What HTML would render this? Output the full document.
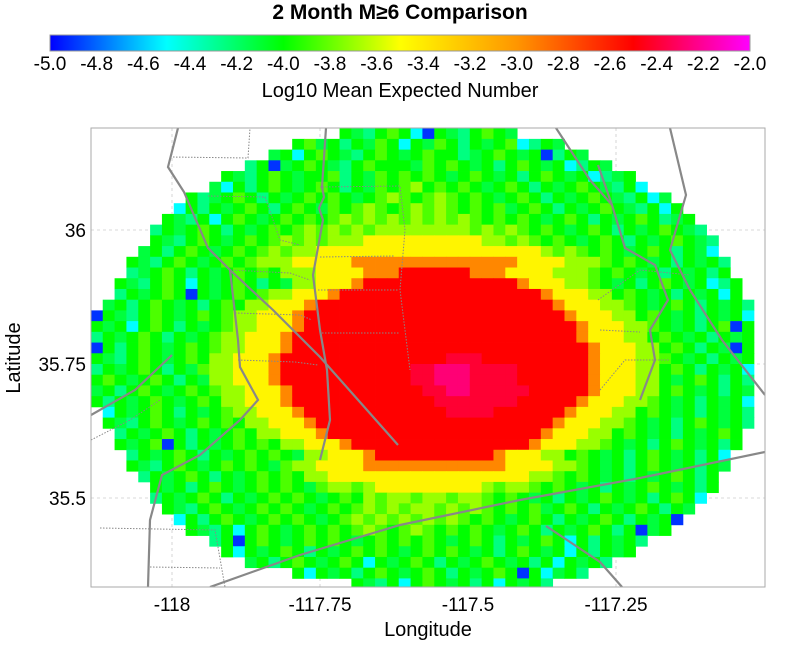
<!DOCTYPE html>
<html><head><meta charset="utf-8"><style>
html,body{margin:0;padding:0;background:#fff;width:800px;height:649px;overflow:hidden}
svg{display:block}
text{font-family:"Liberation Sans",sans-serif;fill:#000}
</style></head><body>
<svg id="chart" width="800" height="649" viewBox="0 0 800 649" xmlns="http://www.w3.org/2000/svg">
<defs>
<linearGradient id="cbgrad" x1="0" x2="1" y1="0" y2="0">
<stop offset="0" stop-color="#0000ff"/><stop offset="0.1667" stop-color="#00ffff"/><stop offset="0.3333" stop-color="#00ff00"/><stop offset="0.5" stop-color="#ffff00"/><stop offset="0.6667" stop-color="#ff9600"/><stop offset="0.8333" stop-color="#ff0000"/><stop offset="1" stop-color="#ff00ff"/>
</linearGradient>
<clipPath id="plotclip"><rect x="91" y="128" width="674" height="459"/></clipPath>
</defs>
<text x="400" y="19" text-anchor="middle" font-size="21" font-weight="bold">2 Month M≥6 Comparison</text>
<rect x="50" y="35" width="700" height="16" fill="url(#cbgrad)" stroke="#999" stroke-width="1"/>
<g id="cbticks"></g>
<text x="400" y="97" text-anchor="middle" font-size="20">Log10 Mean Expected Number</text>
<g id="grid"></g>
<g id="cells" clip-path="url(#plotclip)"></g>
<g clip-path="url(#plotclip)" fill="none">
<g stroke="#888" stroke-width="1" stroke-dasharray="1.5,1.5">
<polyline points="170,157 248,158 250,128"/>
<polyline points="208,196 265,197 280,240 300,245"/>
<polyline points="230,270 290,273 310,280"/>
<polyline points="235,313 300,315 312,320"/>
<polyline points="238,360 295,362 318,365"/>
<polyline points="320,187 400,186 405,230 400,290 410,370"/>
<polyline points="320,257 395,256"/>
<polyline points="318,290 398,290"/>
<polyline points="322,333 400,333"/>
<polyline points="598,300 640,270 690,275"/>
<polyline points="600,330 640,332"/>
<polyline points="600,390 625,360 670,360"/>
<polyline points="91,440 130,420 160,400"/>
<polyline points="100,528 215,530 225,587"/>
<polyline points="150,567 220,568"/>
</g>
<g stroke="#888" stroke-width="2.2">
<polyline points="178,128 168,167 184,192 208,248 230,270 273,310 320,357 398,445"/>
<polyline points="230,270 238,340 240,367 258,400 240,420 200,455 162,475 150,520 148,587"/>
<polyline points="326,128 322,187 324,197 319,208 323,220 313,275 320,330 327,370 330,420 320,460"/>
<polyline points="91,415 135,390 172,355"/>
<polyline points="556,128 590,180 612,205 625,248 655,265 668,300 650,330 655,360 640,400"/>
<polyline points="598,165 612,205"/>
<polyline points="670,128 686,195 670,250 690,290 722,340 765,395"/>
<polyline points="210,587 300,555 400,525 520,500 640,478 765,452"/>
<polyline points="546,526 600,562 622,587"/>
</g>
</g>
<rect x="91" y="128" width="674" height="459" fill="none" stroke="#aaa" stroke-width="1"/>
<g id="axes"></g>
<text x="428" y="636" text-anchor="middle" font-size="20">Longitude</text>
<text x="0" y="0" transform="translate(20,358) rotate(-90)" text-anchor="middle" font-size="20">Latitude</text>
</svg>
<script>
const cbTickValues = [-5.0,-4.8,-4.6,-4.4,-4.2,-4.0,-3.8,-3.6,-3.4,-3.2,-3.0,-2.8,-2.6,-2.4,-2.2,-2.0];
const xTickValues = [-118,-117.75,-117.5,-117.25];
const xTickLabels = ["-118","-117.75","-117.5","-117.25"];
const yTickValues = [36,35.75,35.5];
const yTickLabels = ["36","35.75","35.5"];
const lonStart = -118.137;
const latTop = 36.19;
const cellStep = 0.02;
const levelCodes = {b:-4.9,c:-4.5,e:-4.25,f:-4.12,g:-4.0,k:-3.85,h:-3.7,y:-3.45,o:-2.95,r:-2.5,s:-2.4,m:-2.27};
const rowStarts = [21,17,15,13,11,10,8,7,6,5,5,4,3,3,2,2,1,0,0,0,0,0,0,0,0,0,1,1,2,2,3,3,4,5,5,6,7,8,10,11,13,17,22];
const rowCodes = [
"gfegkgcbgfegkgf",
"gkfgegfkgcgfkgegfgkcegf",
"fgcgkgfegkgfgkggefgkgfgbegf",
"egbfgkgfegkgggfkgkgfgegkgfgcegf",
"gfegkgfggkegfkgkgkgfgkgfgegkgfgcefg",
"fcgegkgfgkgegfkgkhgkgkgfgkgegfgkgfegc",
"gefgkgegfgkgkgfgkhkgkhkgkgfgkgegfgkgfegcf",
"cgegfgkgegkgfkgkhkgkhkhkgkgkfgkgegfgkgfegcg",
"gfegcgkgfgkgkgkhkhkhkhkhkhkgkgkgfgkgegfgkgefg",
"egfgkgegfgkgkhkhkhkhhhhhhhhkhkhkgkgfgkgegfgkgfe",
"gfegkgfgkgkhkhkhh"+"hyyyyyyyyyyh"+"hkhkgkgfgkgegfgkgfe",
"fgegkgfgkgkhkhh"+"yyyyyyyyyyyyyyyyyyy"+"hkhkgkgfgkgegfc",
"gfegkgfgkgk"+"hhh"+"yyyyy"+"oooooooooooooo"+"yyyy"+"hhh"+"kgkgfgegfge",
"efgkgegfgkgkg"+"hhh"+"yyyy"+"ooo"+"rrrrrr"+"ooo"+"yyyy"+"hhh"+"kgkgfgegfgeg",
"gfegkgcgfgkgegf"+"hhyyyo"+"rrrrrrrrrrrrr"+"oyyyhh"+"kgfgegkgfgceg",
"egfgkgbgfgkgk"+"hhyyyo"+"rrrrrrrrrrrrrrrrr"+"oyyyhh"+"gkgfgegfgcg",
"fgegkgfgegkg"+"hhyyyo"+"rrrrrrrrrrrrrrrrrrrr"+"oyyyhh"+"kgfgkgegfge",
"bgfegkgfgkgk"+"hhyyyo"+"rrrrrrrrrrrrrrrrrrrrrr"+"oyyyhh"+"gkgfgegfgc",
"gfgcgkgegfgk"+"hhyyyo"+"rrrrrrrrrrrrrrrrrrrrrrr"+"oyyyhh"+"kgfgegkbg",
"egfgkgegfgk"+"hhyyyo"+"rrrrrrrrrrrrrrrrrrrrrrrr"+"oyyyhh"+"gkgfgegfg",
"bgegkgfgkgk"+"hhyyyo"+"rrrrrrrrrrrrrrrrrrrrrrrrr"+"oyyyhh"+"gkgegfbg",
"gfegkgfgkg"+"hhyyyo"+"rrrrrrrrrrrrrrsssrrrrrrrrr"+"oyyyhh"+"kgfgegfg",
"egfgkgegfk"+"hhyyyo"+"rrrrrrrrrrrssmmmssssrrrrrr"+"oyyyhh"+"gkgegfgc",
"gkgfgkgegf"+"hhyyyo"+"rrrrrrrrrrrssmmmssssrrrrrr"+"oyyyhh"+"gfgkgege",
"fgegkgfgkgk"+"hhyyyo"+"rrrrrrrrrrrssmmsssssrrrrr"+"oyyyhh"+"gkgfgegf",
"gegfgkgfgkg"+"hhyyyo"+"rrrrrrrrrrrrsssssssrrrrr"+"oyyyhh"+"kgfgegfgc",
"cgfgkgegfgk"+"hhyyyo"+"rrrrrrrrrrrrssssrrrrrr"+"oyyyhh"+"gkgfgegfge",
"gfegkgfgkgkg"+"hhyyyo"+"rrrrrrrrrrrrrrrrrrrr"+"oyyyhh"+"kgfgegkgfge",
"egfgkgegfgkg"+"hhyyyo"+"rrrrrrrrrrrrrrrrrr"+"oyyyhh"+"gkgfgegfgkg",
"gfgkbgegfgkgkg"+"hhyyyo"+"rrrrrrrrrrrrrrr"+"oyyyhh"+"kgfgegkgfgeg",
"egfgkgegfgkgkgf"+"hhyyyo"+"rrrrrrrrrr"+"oyyyhh"+"gkgfgegkgfgegc",
"gfegkgfgkgkgfk"+"hhyyyy"+"oooooooooooo"+"yyyyhh"+"kgfgegkgfgegf",
"egfgkgegfgkgkg"+"hh"+"yyyyyyyyyyyyyyyyy"+"hh"+"kgkgfgegfgkgeg",
"gfgegkgfgkgkgfk"+"hhkh"+"yyyyyyyyy"+"hkhh"+"kgkgfgegfgkgfgeg",
"egfgkgegfgkgkgfgkg"+"hkhhkhhkhh"+"kgkgfgegfgkgfgegkgc",
"gfegkgfgkgkgfgkgkhkhkhhkhkhkgkgkfgkgegfgkgegf",
"cgegkgfgkgkgfgkhkhkhkhkhkgkgfgkgegfgkgegfgb",
"gfegcgkgfgkgkgkhkgkhkgkgkgfgkgegfgkgegbfg",
"egbgkgfgkgkgfgkgkgkgfgkgegfgkgcgegfge",
"gcgfgkgegfgkgkgfgkgkgfgegkgfgcgegfg",
"fgegkgfgkgcgfgkgegfgkgfgegcgfge",
"gcgfgegkgfgkgegfgkgbgcfge",
"gfegcgkgfgegcgfge"
];

const NS = "http://www.w3.org/2000/svg";
function xScale(lon){ return 172 + (lon + 118) * 592; }
function yScale(lat){ return 230 + (36 - lat) * 536; }
function cbScale(v){ return 50 + (v + 5) / 3 * 700; }
const stops = [[-5,[0,0,255]],[-4.5,[0,255,255]],[-4,[0,255,0]],[-3.5,[255,255,0]],[-3,[255,150,0]],[-2.5,[255,0,0]],[-2,[255,0,255]]];
function colorOf(v){
  if (v <= stops[0][0]) return "rgb(0,0,255)";
  for (let i = 1; i < stops.length; i++) {
    if (v <= stops[i][0]) {
      const a = stops[i-1], b = stops[i], t = (v - a[0]) / (b[0] - a[0]);
      const c = a[1].map((q, j) => Math.round(q + (b[1][j] - q) * t));
      return "rgb(" + c.join(",") + ")";
    }
  }
  return "rgb(255,0,255)";
}
function mk(tag, attrs){ const e = document.createElementNS(NS, tag); for (const k in attrs) e.setAttribute(k, attrs[k]); return e; }

const cbg = document.getElementById("cbticks");
cbTickValues.forEach(v => {
  const t = mk("text", {x: cbScale(v), y: 70, "text-anchor": "middle", "font-size": 19});
  
  
  t.textContent = v.toFixed(1);
  cbg.appendChild(t);
});

const grid = document.getElementById("grid");
xTickValues.forEach(v => {
  const l = mk("line", {x1: xScale(v), x2: xScale(v), y1: 128, y2: 587, stroke: "#ccc", "stroke-width": 0.8, "stroke-dasharray": "3,3"});
  
  
  grid.appendChild(l);
});
yTickValues.forEach(v => {
  const l = mk("line", {x1: 91, x2: 765, y1: yScale(v), y2: yScale(v), stroke: "#ccc", "stroke-width": 0.8, "stroke-dasharray": "3,3"});
  
  
  grid.appendChild(l);
});

const cells = document.getElementById("cells");
const cw = cellStep * 592, ch = cellStep * 536;
rowCodes.forEach((row, r) => {
  const lat = latTop - r * cellStep;
  for (let j = 0; j < row.length; j++) {
    const code = row[j];
    if (!(code in levelCodes)) continue;
    const lon = lonStart + (rowStarts[r] + j) * cellStep;
    const rect = mk("rect", {x: xScale(lon).toFixed(2), y: yScale(lat).toFixed(2), width: (cw + 0.4).toFixed(2), height: (ch + 0.4).toFixed(2), fill: colorOf(levelCodes[code])});
    
    
    cells.appendChild(rect);
  }
});

const axes = document.getElementById("axes");
xTickValues.forEach((v, i) => {
  const t = mk("text", {x: xScale(v), y: 611, "text-anchor": "middle", "font-size": 19});
  
  
  t.textContent = xTickLabels[i];
  axes.appendChild(t);
});
yTickValues.forEach((v, i) => {
  const t = mk("text", {x: 86, y: yScale(v) + 7, "text-anchor": "end", "font-size": 19});
  
  
  t.textContent = yTickLabels[i];
  axes.appendChild(t);
});
</script>
</body></html>
